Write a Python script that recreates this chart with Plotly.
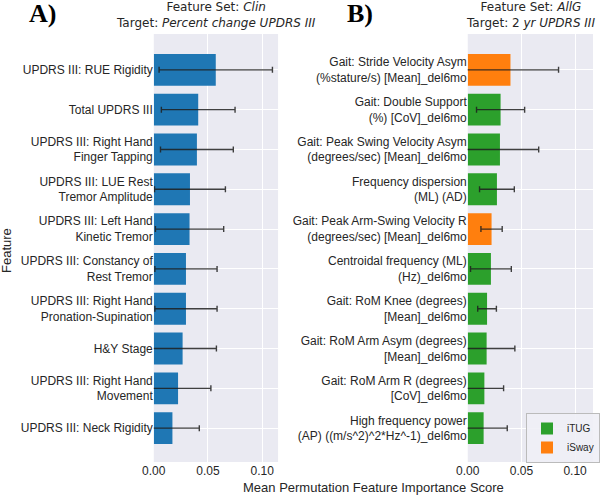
import plotly.graph_objects as go

# ---- Panel A data ----
left_features = [
    "UPDRS III: RUE Rigidity",
    "Total UPDRS III",
    "UPDRS III: Right Hand<br>Finger Tapping",
    "UPDRS III: LUE Rest<br>Tremor Amplitude",
    "UPDRS III: Left Hand<br>Kinetic Tremor",
    "UPDRS III: Constancy of<br>Rest Tremor",
    "UPDRS III: Right Hand<br>Pronation-Supination",
    "H&Y Stage",
    "UPDRS III: Right Hand<br>Movement",
    "UPDRS III: Neck Rigidity",
]
left_means = [0.0572, 0.041, 0.0398, 0.0334, 0.033, 0.0297, 0.0297, 0.0266, 0.0224, 0.0172]
left_errs = [0.0523, 0.034, 0.0336, 0.0327, 0.0315, 0.0287, 0.0287, 0.0312, 0.0303, 0.0248]

# ---- Panel B data ----
right_features = [
    "Gait: Stride Velocity Asym<br>(%stature/s) [Mean]_del6mo",
    "Gait: Double Support<br>(%) [CoV]_del6mo",
    "Gait: Peak Swing Velocity Asym<br>(degrees/sec) [Mean]_del6mo",
    "Frequency dispersion<br>(ML) (AD)",
    "Gait: Peak Arm-Swing Velocity R<br>(degrees/sec) [Mean]_del6mo",
    "Centroidal frequency (ML)<br>(Hz)_del6mo",
    "Gait: RoM Knee (degrees)<br>[Mean]_del6mo",
    "Gait: RoM Arm Asym (degrees)<br>[Mean]_del6mo",
    "Gait: RoM Arm R (degrees)<br>[CoV]_del6mo",
    "High frequency power<br>(AP) ((m/s^2)^2*Hz^-1)_del6mo",
]
right_means = [0.0398, 0.0306, 0.030, 0.0272, 0.0222, 0.0216, 0.018, 0.0176, 0.0155, 0.0148]
right_errs = [0.0448, 0.0224, 0.0361, 0.0162, 0.0099, 0.019, 0.0087, 0.0263, 0.0179, 0.022]
right_groups = ["iSway", "iTUG", "iTUG", "iTUG", "iSway", "iTUG", "iTUG", "iTUG", "iTUG", "iTUG"]

x_ticks = [0.0, 0.05, 0.10]

BLUE = "#1f77b4"
GREEN = "#2ca02c"
ORANGE = "#ff7f0e"
BG = "#EAEAF2"
TXT = "#262626"
ERRC = "rgba(30,30,30,0.85)"
group_colors = {"iTUG": GREEN, "iSway": ORANGE}

fig = go.Figure()

fig.add_trace(go.Bar(
    x=left_means, y=left_features, orientation="h",
    marker=dict(color=BLUE, line=dict(width=0)), width=0.8,
    error_x=dict(type="data", array=left_errs, color=ERRC, thickness=1.4, width=3),
    xaxis="x", yaxis="y", showlegend=False,
))

for g in ["iTUG", "iSway"]:
    idx = [i for i, gg in enumerate(right_groups) if gg == g]
    fig.add_trace(go.Bar(
        x=[right_means[i] for i in idx], y=[right_features[i] for i in idx],
        orientation="h", name=g,
        marker=dict(color=group_colors[g], line=dict(width=0)), width=0.8,
        error_x=dict(type="data", array=[right_errs[i] for i in idx], color=ERRC, thickness=1.4, width=3),
        xaxis="x2", yaxis="y2", showlegend=True,
    ))

W, H = 600, 496
def px(x):
    return x / W
def py(y):
    return 1 - y / H

axis_common = dict(
    showgrid=True, gridcolor="white", gridwidth=1, zeroline=False, showline=False,
    automargin=False, ticks="",
    tickfont=dict(family="Liberation Sans, Arial", size=12, color=TXT),
)

fig.update_layout(
    width=W, height=H,
    margin=dict(l=0, r=0, t=0, b=0),
    paper_bgcolor="white", plot_bgcolor=BG,
    barmode="overlay",
    xaxis=dict(domain=[px(154.3), px(279)], range=[0, 0.1147], anchor="y",
               tickvals=x_ticks, tickformat=".2f", **axis_common),
    yaxis=dict(domain=[py(462), py(34)], range=[9.85, -0.9], anchor="x",
               type="category", categoryorder="array", categoryarray=left_features,
               **axis_common),
    xaxis2=dict(domain=[px(469.3), px(595)], range=[0, 0.1167], anchor="y2",
                tickvals=x_ticks, tickformat=".2f", **axis_common),
    yaxis2=dict(domain=[py(462), py(34)], range=[9.85, -0.9], anchor="x2",
                type="category", categoryorder="array", categoryarray=right_features,
                **axis_common),
    legend=dict(x=px(528), y=py(413), xanchor="left", yanchor="top",
                bgcolor="rgba(240,240,246,0.9)", bordercolor="#BBBBBB", borderwidth=1,
                font=dict(family="Liberation Sans, Arial", size=10, color=TXT),
                itemwidth=30, tracegroupgap=0),
    font=dict(family="Liberation Sans, Arial", color=TXT),
)

annotations = [
    dict(text="Feature Set: <i>Clin</i><br>Target: <i>Percent change UPDRS III</i>",
         x=px(216.5), y=py(15), xref="paper", yref="paper", showarrow=False,
         xanchor="center", yanchor="middle",
         font=dict(family="DejaVu Sans", size=12, color=TXT)),
    dict(text="Feature Set: <i>AllG</i><br>Target: 2 <i>yr UPDRS III</i>",
         x=px(532), y=py(15), xref="paper", yref="paper", showarrow=False,
         xanchor="center", yanchor="middle",
         font=dict(family="DejaVu Sans", size=12, color=TXT)),
    dict(text="<b>A)</b>", x=px(27), y=py(14), xref="paper", yref="paper", showarrow=False,
         xanchor="left", yanchor="middle",
         font=dict(family="Liberation Serif, Times New Roman", size=26, color="black")),
    dict(text="<b>B)</b>", x=px(346), y=py(14), xref="paper", yref="paper", showarrow=False,
         xanchor="left", yanchor="middle",
         font=dict(family="Liberation Serif, Times New Roman", size=26, color="black")),
    dict(text="Mean Permutation Feature Importance Score", x=px(374.5), y=py(487),
         xref="paper", yref="paper", showarrow=False, xanchor="center", yanchor="middle",
         font=dict(family="Liberation Sans, Arial", size=13, color=TXT)),
    dict(text="Feature", x=px(6), y=py(250), xref="paper", yref="paper", showarrow=False,
         xanchor="center", yanchor="middle", textangle=-90,
         font=dict(family="Liberation Sans, Arial", size=13, color=TXT)),
]
fig.update_layout(annotations=annotations)

fig.write_html("out.html", config={"displayModeBar": False},
               post_script="document.body.style.margin='0';")
